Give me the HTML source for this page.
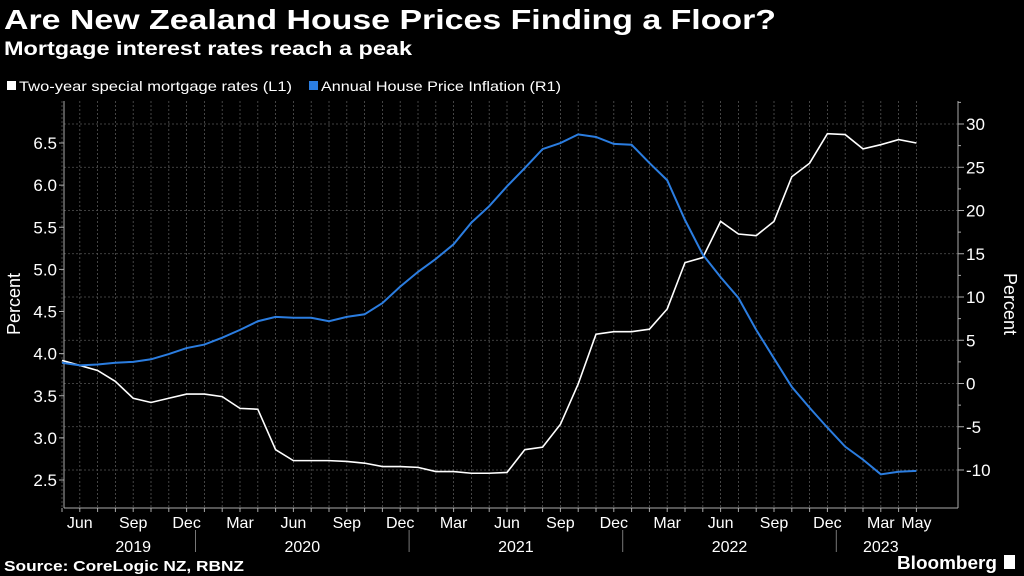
<!DOCTYPE html>
<html><head><meta charset="utf-8"><style>
body{margin:0;background:#000;width:1024px;height:576px;overflow:hidden;font-family:"Liberation Sans",sans-serif;color:#fff}
svg{position:absolute;left:0;top:0}
</style></head><body>
<svg width="1024" height="576">
<text x="4" y="29" font-size="28" font-weight="bold" fill="#fff" textLength="772" lengthAdjust="spacingAndGlyphs">Are New Zealand House Prices Finding a Floor?</text>
<text x="4" y="55" font-size="19" font-weight="bold" fill="#fff" textLength="408" lengthAdjust="spacingAndGlyphs">Mortgage interest rates reach a peak</text>
<g font-size="14" fill="#fff">
<rect x="7" y="81" width="9" height="9" fill="#fff"/>
<text x="19" y="91" textLength="273" lengthAdjust="spacingAndGlyphs">Two-year special mortgage rates (L1)</text>
<rect x="309" y="81" width="9" height="9" fill="#2b7de0"/>
<text x="321" y="91" textLength="240" lengthAdjust="spacingAndGlyphs">Annual House Price Inflation (R1)</text>
</g>
<g id="grid"></g>
<g id="axes"></g>
<g id="series"></g>
<text transform="translate(20,304) rotate(-90)" text-anchor="middle" font-size="18" fill="#fff">Percent</text>
<text transform="translate(1004,304) rotate(90)" text-anchor="middle" font-size="18" fill="#fff">Percent</text>
<text x="4" y="571" font-size="15" font-weight="bold" fill="#fff" textLength="240" lengthAdjust="spacingAndGlyphs">Source: CoreLogic NZ, RBNZ</text>
<text x="997" y="569" text-anchor="end" font-size="18" font-weight="bold" fill="#fff" textLength="100" lengthAdjust="spacingAndGlyphs">Bloomberg</text>
<rect x="1004" y="555" width="11" height="14" fill="#fff"/>
</svg>
<script>
const mortgage=[3.92,3.86,3.80,3.67,3.47,3.42,3.47,3.52,3.52,3.49,3.35,3.34,2.86,2.73,2.73,2.73,2.72,2.70,2.66,2.66,2.65,2.60,2.60,2.58,2.58,2.59,2.86,2.89,3.16,3.64,4.23,4.26,4.26,4.29,4.53,5.08,5.14,5.57,5.42,5.40,5.57,6.10,6.26,6.61,6.60,6.43,6.48,6.54,6.50];
const housePrice=[2.4,2.1,2.2,2.4,2.5,2.8,3.4,4.1,4.5,5.3,6.2,7.2,7.7,7.6,7.6,7.2,7.7,8.0,9.3,11.2,12.9,14.4,16.1,18.6,20.5,22.8,24.9,27.1,27.8,28.8,28.5,27.7,27.6,25.5,23.5,18.9,14.9,12.3,9.9,6.2,2.9,-0.4,-2.8,-5.1,-7.3,-8.8,-10.5,-10.2,-10.1];
const leftTicks=[2.5,3.0,3.5,4.0,4.5,5.0,5.5,6.0,6.5];
const rightTicks=[-10,-5,0,5,10,15,20,25,30];
const monthLabels=[["Jun",1],["Sep",4],["Dec",7],["Mar",10],["Jun",13],["Sep",16],["Dec",19],["Mar",22],["Jun",25],["Sep",28],["Dec",31],["Mar",34],["Jun",37],["Sep",40],["Dec",43],["Mar",46],["May",48]];
const yearLabels=[["2019",4],["2020",13.5],["2021",25.5],["2022",37.5],["2023",46]];
const NS="http://www.w3.org/2000/svg";
const x=i=>62+i*17.8;
const yL=v=>480-(v-2.5)*84.25;
const yR=v=>470-(v+10)*8.65;
function mk(tag,attrs,parent){const e=document.createElementNS(NS,tag);for(const k in attrs)e.setAttribute(k,attrs[k]);parent.appendChild(e);return e;}
const grid=document.getElementById('grid'),axes=document.getElementById('axes'),series=document.getElementById('series');
for(let i=0;i<mortgage.length;i++){const l=mk('line',{x1:x(i),x2:x(i),y1:101,y2:508,stroke:'#555','stroke-width':0.8,'stroke-dasharray':'2,2'},grid);

}
rightTicks.forEach(t=>{const l=mk('line',{x1:64,x2:958,y1:yR(t),y2:yR(t),stroke:'#555','stroke-width':0.8,'stroke-dasharray':'2,2'},grid);


const tk=mk('line',{x1:958,x2:964,y1:yR(t),y2:yR(t),stroke:'#aaa'},axes);


const mt=mk('line',{x1:958,x2:961,y1:yR(t+2.5),y2:yR(t+2.5),stroke:'#aaa'},axes);


const tx=mk('text',{x:966,y:yR(t)+6,'font-size':17,fill:'#fff'},axes);tx.textContent=t;

});
leftTicks.forEach(t=>{const tk=mk('line',{x1:59,x2:64,y1:yL(t),y2:yL(t),stroke:'#aaa'},axes);


const tx=mk('text',{x:57,y:yL(t)+6,'font-size':17,fill:'#fff','text-anchor':'end'},axes);tx.textContent=t.toFixed(1);

});
[[64,101,64,508],[958,101,958,508],[64,508,958,508]].forEach(a=>{const l=mk('line',{x1:a[0],y1:a[1],x2:a[2],y2:a[3],stroke:'#aaa'},axes);

});
for(let i=0;i<mortgage.length;i++){const l=mk('line',{x1:x(i),x2:x(i),y1:508,y2:512,stroke:'#aaa'},axes);

}
monthLabels.forEach(m=>{const t=mk('text',{x:x(m[1]),y:528,'font-size':16,fill:'#fff','text-anchor':'middle'},axes);t.textContent=m[0];

});
yearLabels.forEach(m=>{const t=mk('text',{x:x(m[1]),y:552,'font-size':16,fill:'#fff','text-anchor':'middle'},axes);t.textContent=m[0];

});
[7.5,19.5,31.5,43.5].forEach(i=>{const l=mk('line',{x1:x(i),x2:x(i),y1:530,y2:552,stroke:'#777'},axes);

});
const p1=mk('polyline',{points:mortgage.map((v,i)=>x(i)+','+yL(v)).join(' '),fill:'none',stroke:'#fff','stroke-width':1.6},series);


const p2=mk('polyline',{points:housePrice.map((v,i)=>x(i)+','+yR(v)).join(' '),fill:'none',stroke:'#2b7de0','stroke-width':2},series);


</script>
</body></html>
